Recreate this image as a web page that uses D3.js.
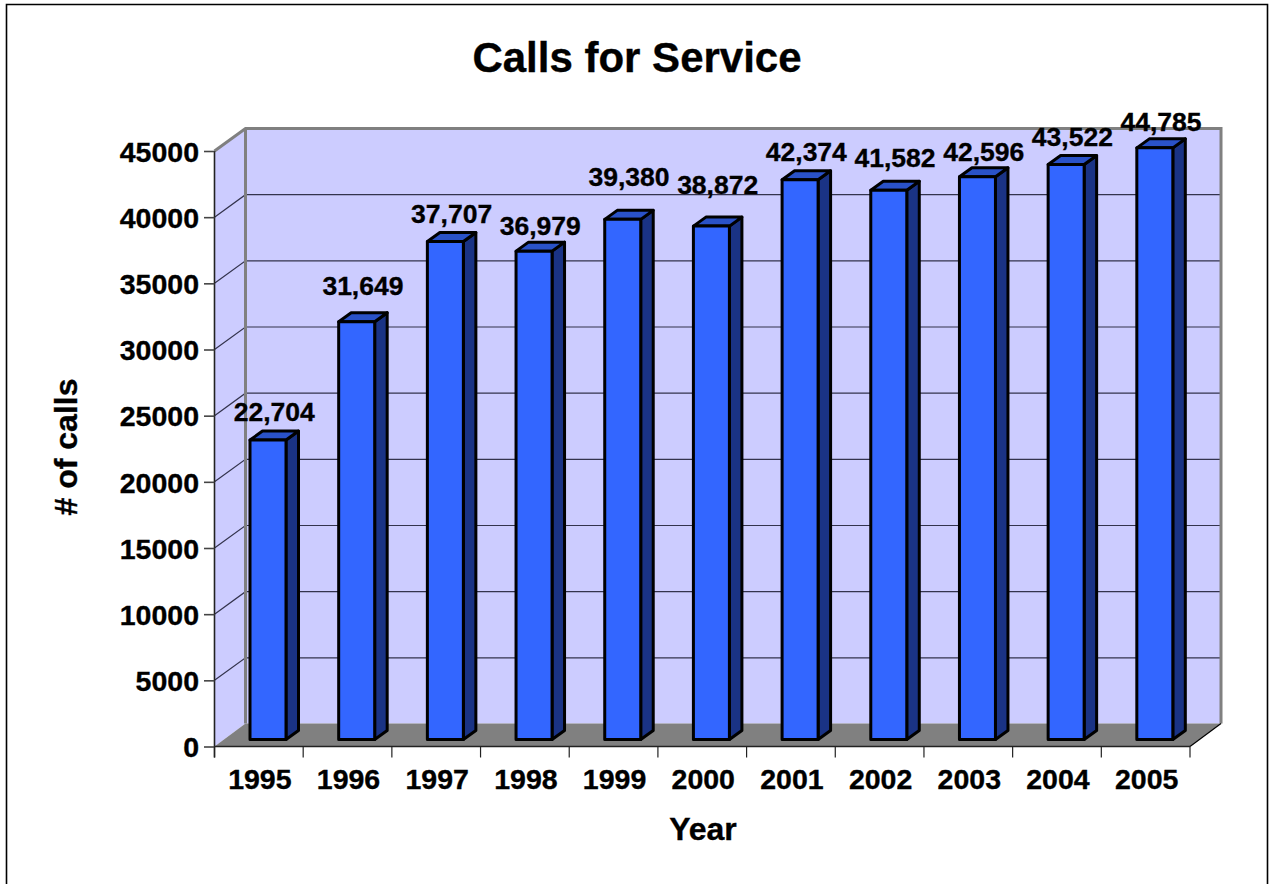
<!DOCTYPE html>
<html><head><meta charset="utf-8">
<script src="https://cdn.jsdelivr.net/npm/d3@7/dist/d3.min.js"></script>
<style>html,body{margin:0;padding:0;background:#fff}svg{display:block}
text{font-family:"Liberation Sans",Arial,sans-serif;font-weight:bold;fill:#000;stroke:#000;stroke-width:.35px}</style>
</head><body><svg id="c" width="1272" height="884"></svg>
<script>
const years = ["1995","1996","1997","1998","1999","2000","2001","2002","2003","2004","2005"];
const calls = [22704,31649,37707,36979,39380,38872,42374,41582,42596,43522,44785];
const yTicks = [0,5000,10000,15000,20000,25000,30000,35000,40000,45000];
// how far each value label floats above its bar, as placed in the reference
const labelLift = [19,27,19,16,33,32,19,23,16,19,17];

const left=214.5, right=1190, floorY=746.5, topY=151;
const wallDx=31, wallDy=-22.5;
const barDx=12.5, barDy=-9, barInsetX=35.5, barInsetY=7, barW=36;

const svg=d3.select("#c");
const x=d3.scaleBand().domain(years).range([left,right]);
const y=d3.scaleLinear().domain([0,45000]).range([floorY,topY]);
const poly=(pts,fill,stroke,sw)=>svg.append("polygon").attr("points",pts.map(p=>p.join(",")).join(" "))
  .attr("fill",fill).attr("stroke",stroke||"none").attr("stroke-width",sw||0).attr("stroke-linejoin","round");

// frame
svg.append("path").attr("d","M6.5,884V4.5H1267.5V884").attr("fill","none").attr("stroke","#000").attr("stroke-width",1.6);

// walls
const bx=left+wallDx, brx=right+wallDx, by0=floorY+wallDy-0.5, by1=topY+wallDy;
poly([[left,floorY],[left,topY],[bx,by1],[bx,by0]],"#CCCCFF");
poly([[bx,by1],[brx,by1],[brx,by0],[bx,by0]],"#CCCCFF");
poly([[left,floorY],[bx,by0],[brx,by0],[right,floorY]],"#808080");

// gridlines
yTicks.slice(1,-1).forEach(t=>{
  svg.append("path").attr("d",`M${left},${y(t)}L${bx},${y(t)+wallDy}H${brx}`)
    .attr("fill","none").attr("stroke","#33334d").attr("stroke-width",1.2);
});
// wall border
svg.append("path").attr("d",`M${left},${topY}L${bx},${by1}H${brx}V${by0}`).attr("fill","none").attr("stroke","#808080").attr("stroke-width",3);
svg.append("path").attr("d",`M${bx},${by1}V${by0}`).attr("fill","none").attr("stroke","#808080").attr("stroke-width",3);
svg.append("path").attr("d",`M${right},${floorY}L${brx},${by0}`).attr("fill","none").attr("stroke","#000").attr("stroke-width",1.2);

// bars
calls.forEach((v,i)=>{
  const x0=x(years[i])+barInsetX, x1=x0+barW, yb=y(0)-barInsetY, yt=y(v)-barInsetY+1;
  poly([[x1,yt],[x1+barDx,yt+barDy],[x1+barDx,yb+barDy],[x1,yb]],"#1A3385","#000",3);
  poly([[x0,yt],[x0+barDx,yt+barDy],[x1+barDx,yt+barDy],[x1,yt]],"#2A52C8","#000",3);
  poly([[x0,yt],[x1,yt],[x1,yb],[x0,yb]],"#3366FF","#000",3);
  svg.append("text").attr("x",x0+(barW+barDx)/2).attr("y",yt-labelLift[i])
    .attr("text-anchor","middle").attr("font-size",26.5).text(d3.format(",")(v));
});

// axes
const gy=svg.append("g").attr("transform",`translate(${left},0)`)
  .call(d3.axisLeft(y).tickValues(yTicks).tickFormat(d3.format("d")).tickSize(10.5).tickPadding(5));
gy.select(".domain").attr("stroke","#222").attr("stroke-width",1.6).attr("d",`M0,${topY}V${floorY+11}`);
gy.selectAll("line").attr("stroke","#444").attr("stroke-width",1.6);
gy.selectAll("text").attr("font-size",28.5).attr("font-family",null).attr("dy","0.36em");

const gx=svg.append("g").attr("transform",`translate(0,${floorY})`)
  .call(d3.axisBottom(x).tickSize(0).tickPadding(22));
gx.select(".domain").attr("stroke","#222").attr("stroke-width",1.6).attr("d",`M${left},0H${right}`);
gx.selectAll("text").attr("font-size",28.5).attr("font-family",null).attr("dx",1);
x.domain().concat("end").forEach((d,i)=>{
  const px=left+i*x.step();
  svg.append("line").attr("x1",px).attr("x2",px).attr("y1",floorY).attr("y2",floorY+11).attr("stroke","#222").attr("stroke-width",1.2);
});

// titles
svg.append("text").attr("x",637).attr("y",72).attr("text-anchor","middle").attr("font-size",42).text("Calls for Service");
svg.append("text").attr("x",703).attr("y",840).attr("text-anchor","middle").attr("font-size",32).text("Year");
svg.append("text").attr("transform","translate(77,447) rotate(-90)").attr("text-anchor","middle").attr("font-size",32).text("# of calls");
</script></body></html>
